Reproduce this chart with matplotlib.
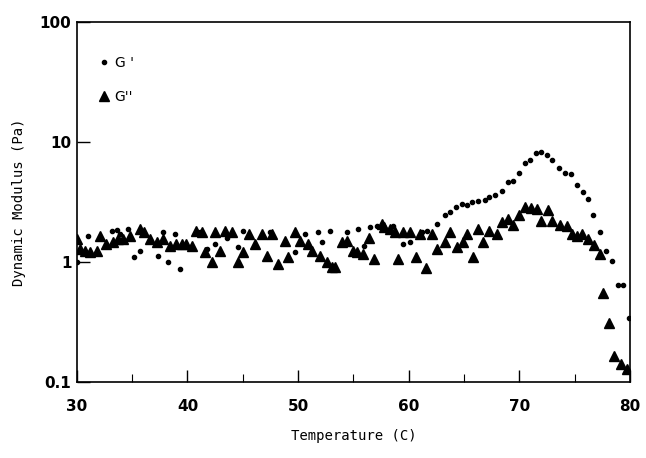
import numpy as np
import matplotlib
matplotlib.use("Agg")
import matplotlib.pyplot as plt
from matplotlib.ticker import FixedLocator, NullLocator

# G' (storage modulus)
t_gp = [30.0, 31.0, 33.2, 33.6, 33.9, 34.6, 35.2, 35.7, 37.3, 37.8, 38.2, 38.9,
        39.3, 41.1, 41.8, 42.5, 43.6, 44.6, 45.0, 47.5, 49.7, 50.6, 51.8,
        52.2, 52.9, 54.4, 55.4, 56.0, 56.5, 57.1, 58.6, 59.5, 60.1, 61.2,
        61.7, 62.6, 63.3, 63.7, 64.3, 64.8, 65.3, 65.7, 66.3, 66.9, 67.3,
        67.8, 68.4, 69.0, 69.4, 70.0, 70.5, 71.0, 71.5, 72.0, 72.5, 73.0,
        73.6, 74.1, 74.7, 75.2, 75.8, 76.2, 76.7, 77.3, 77.8, 78.4, 78.9,
        79.4, 79.9]
g_p = [1.00, 1.64, 1.81, 1.84, 1.71, 1.88, 1.10, 1.23, 1.12, 1.78, 1.00, 1.71,
       0.875, 1.78, 1.28, 1.41, 1.58, 1.33, 1.81, 1.78, 1.21, 1.71, 1.78,
       1.47, 1.81, 1.78, 1.88, 1.36, 1.95, 1.99, 1.99, 1.41, 1.47, 1.78,
       1.81, 2.07, 2.46, 2.60, 2.87, 3.03, 2.98, 3.15, 3.21, 3.27, 3.47,
       3.60, 3.89, 4.63, 4.71, 5.49, 6.64, 7.05, 8.07, 8.22, 7.76, 7.05,
       6.05, 5.49, 5.39, 4.37, 3.82, 3.34, 2.46, 1.78, 1.23, 1.02, 0.64,
       0.64, 0.34]

# G'' (loss modulus)
t_gpp = [30.0, 30.3, 30.7, 31.2, 31.8, 32.1, 32.6, 33.3, 33.7, 34.2, 34.8,
         35.7, 36.1, 36.6, 37.2, 37.8, 38.4, 39.0, 39.5, 39.9, 40.4, 40.8,
         41.3, 41.6, 42.2, 42.5, 42.9, 43.4, 44.0, 44.6, 45.0, 45.6, 46.1,
         46.7, 47.2, 47.6, 48.2, 48.8, 49.1, 49.7, 50.2, 50.9, 51.3, 52.0,
         52.6, 53.1, 53.3, 54.0, 54.4, 55.0, 55.3, 55.9, 56.4, 56.9, 57.6,
         57.8, 58.3, 58.8, 59.0, 59.5, 60.1, 60.7, 61.0, 61.6, 62.1, 62.6,
         63.3, 63.7, 64.4, 64.9, 65.3, 65.8, 66.3, 66.7, 67.3, 68.0, 68.4,
         69.0, 69.4, 70.0, 70.5, 71.1, 71.6, 72.0, 72.6, 73.0, 73.7, 74.3,
         74.8, 75.2, 75.7, 76.2, 76.8, 77.3, 77.6, 78.1, 78.6, 79.2, 79.7]
g_pp = [1.55, 1.28, 1.23, 1.21, 1.23, 1.64, 1.41, 1.47, 1.55, 1.55, 1.66,
        1.88, 1.78, 1.55, 1.47, 1.55, 1.36, 1.41, 1.41, 1.41, 1.36, 1.81,
        1.78, 1.21, 1.00, 1.78, 1.23, 1.81, 1.78, 1.00, 1.21, 1.71, 1.41,
        1.71, 1.12, 1.71, 0.96, 1.50, 1.10, 1.78, 1.50, 1.41, 1.23, 1.12,
        1.00, 0.91, 0.91, 1.47, 1.49, 1.23, 1.21, 1.17, 1.58, 1.06, 2.07,
        1.95, 1.88, 1.78, 1.06, 1.78, 1.78, 1.10, 1.71, 0.89, 1.71, 1.28,
        1.47, 1.78, 1.33, 1.47, 1.71, 1.10, 1.88, 1.47, 1.81, 1.71, 2.15,
        2.28, 2.03, 2.46, 2.87, 2.81, 2.76, 2.19, 2.70, 2.19, 2.03, 1.99,
        1.71, 1.64, 1.71, 1.55, 1.38, 1.17, 0.55, 0.31, 0.165, 0.142, 0.129]

x_ticks = [30, 40, 50, 60, 70, 80]
y_ticks = [0.1, 1, 10, 100]
y_labels = ["0.1", "1", "10", "100"]

fig = plt.figure(figsize=(6.46, 4.58), dpi=100)
ax = fig.add_axes([0.119, 0.166, 0.856, 0.786])

ax.plot(t_gp, g_p, "o", color="black", markersize=3.0, label="G '")
ax.plot(t_gpp, g_pp, "^", color="black", markersize=7.5, label="G''")

ax.set_yscale("log")
ax.set_xlim(30, 80)
ax.set_ylim(0.1, 100)

ax.xaxis.set_major_locator(FixedLocator(x_ticks))
ax.xaxis.set_minor_locator(FixedLocator([35, 45, 55, 65, 75]))
ax.yaxis.set_major_locator(FixedLocator(y_ticks))
ax.yaxis.set_minor_locator(NullLocator())
ax.set_yticklabels(y_labels)

ax.tick_params(which="major", direction="in", length=9, width=1.0,
               labelsize=11, pad=4)
ax.tick_params(which="minor", direction="in", length=6, width=0.8)
for lab in ax.get_xticklabels() + ax.get_yticklabels():
    lab.set_fontweight("bold")
ax.tick_params(axis="x", pad=12)

for s in ax.spines.values():
    s.set_linewidth(1.2)

ax.set_xlabel("Temperature (C)", family="DejaVu Sans Mono", fontsize=10,
              labelpad=11)
ax.set_ylabel("Dynamic Modulus (Pa)", family="DejaVu Sans Mono", fontsize=10,
              labelpad=10)

leg = ax.legend(loc="upper left", frameon=False, fontsize=10,
                handletextpad=0.3, labelspacing=1.4, handlelength=1.0,
                bbox_to_anchor=(0.013, 0.94))

fig.savefig("out.png", dpi=100)
